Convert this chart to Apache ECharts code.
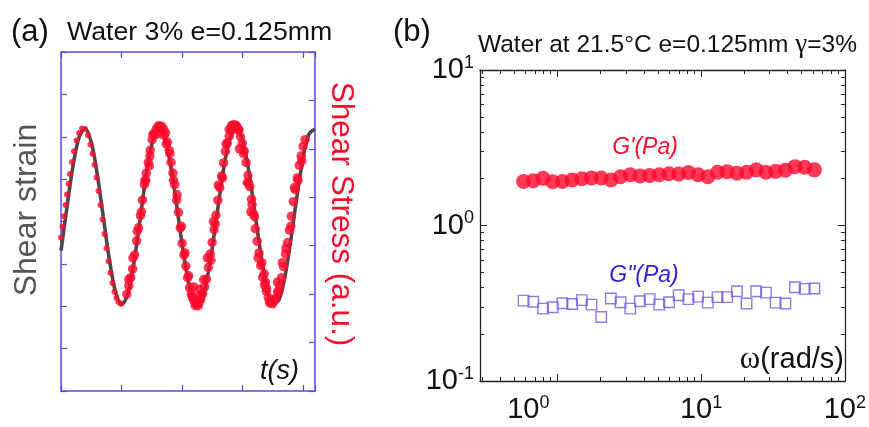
<!DOCTYPE html>
<html>
<head>
<meta charset="utf-8">
<script src="https://cdn.jsdelivr.net/npm/echarts@6/dist/echarts.min.js"></script>
<style>
  html, body { margin: 0; padding: 0; background: #fff; }
  #chart { width: 869px; height: 427px; }
</style>
</head>
<body>
<div id="chart"></div>
<script>
// ---------- (a) oscillation trace: time vs strain / stress ----------
const strainT = [0, 0.1, 0.2, 0.3, 0.4, 0.5, 0.6, 0.7, 0.8, 0.9, 1.0, 1.1, 1.2, 1.3, 1.4, 1.5, 1.6, 1.7, 1.8, 1.9, 2.0,
  2.1, 2.2, 2.3, 2.4, 2.5, 2.6, 2.7, 2.8, 2.9, 3.0, 3.1, 3.2, 3.3, 3.4, 3.5, 3.6, 3.7, 3.8, 3.9, 4.0, 4.1, 4.2];
const strainV = [3.31, 4.35, 5.32, 5.99, 6.19, 5.87, 5.11, 4.10, 3.10, 2.35, 2.04, 2.27, 2.97, 3.97, 5.01, 5.81, 6.19,
  6.04, 5.43, 4.51, 3.49, 2.63, 2.12, 2.09, 2.54, 3.37, 4.38, 5.33, 5.98, 6.20, 5.92, 5.23, 4.27, 3.28, 2.49, 2.08,
  2.14, 2.68, 3.56, 4.58, 5.48, 6.06, 6.18];

const stressT = [
  0, 0.025, 0.050, 0.074, 0.099, 0.124, 0.149, 0.182, 0.215, 0.256, 0.298, 0.347, 0.397, 0.446, 0.488, 0.521,
  0.554, 0.587, 0.620, 0.653, 0.686, 0.719, 0.752, 0.785, 0.818, 0.851, 0.884, 0.917, 0.950, 0.992,
  1.088, 1.121, 1.153, 1.185, 1.217, 1.250, 1.282, 1.314, 1.346, 1.379, 1.411, 1.443, 1.475, 1.507, 1.540, 1.572, 1.604,
  1.636, 1.667, 1.698, 1.728, 1.759, 1.789, 1.820, 1.851, 1.881, 1.912, 1.942, 1.973, 2.003, 2.034, 2.065, 2.095,
  2.126, 2.156, 2.187, 2.217,
  2.248, 2.279, 2.311, 2.342, 2.374, 2.405, 2.436, 2.468, 2.499, 2.531, 2.562, 2.593, 2.625, 2.656, 2.688, 2.719,
  2.750, 2.782, 2.813, 2.845,
  2.876, 2.907, 2.937, 2.968, 2.998, 3.029, 3.060, 3.090, 3.121, 3.151, 3.182, 3.212, 3.243, 3.274, 3.304, 3.335,
  3.365, 3.396, 3.426, 3.457,
  3.488, 3.520, 3.552, 3.584, 3.617, 3.649, 3.681, 3.713, 3.745, 3.778, 3.810, 3.842, 3.874, 3.907, 3.939, 3.971,
  4.003, 4.036,
  1.58, 1.70, 2.17, 2.22, 2.27, 2.31, 2.78, 2.82, 2.86, 2.90, 2.94, 3.40, 3.45, 3.50, 3.55, 3.58, 3.36,
  1.40, 1.47, 3.10, 3.16, 2.48, 2.55,
  1.12, 1.19, 1.26, 1.33, 1.39, 1.46, 1.52,
  1.74, 1.80, 1.86, 1.92, 1.99, 2.05, 2.11, 2.19,
  2.29, 2.36, 2.42, 2.52, 2.60, 2.67, 2.73,
  2.95, 3.02, 3.08, 3.14, 3.20, 3.26, 3.32, 3.38,
  3.60, 3.66, 3.72, 3.80, 3.86, 3.92, 3.98
];
const stressV = [
  3.17, 3.39, 3.61, 3.84, 4.06, 4.28, 4.48, 4.73, 4.95, 5.17, 5.33, 5.42, 5.41, 5.28, 5.09, 4.90,
  4.67, 4.41, 4.13, 3.84, 3.54, 3.24, 2.95, 2.68, 2.44, 2.23, 2.05, 1.92, 1.84, 1.80,
  2.00, 2.17, 2.34, 2.52, 2.81, 3.10, 3.37, 3.62, 3.94, 4.26, 4.50, 4.72, 4.97, 5.19, 5.31, 5.40, 5.47,
  5.47, 5.46, 5.40, 5.33, 5.14, 4.97, 4.72, 4.50, 4.26, 3.94, 3.69, 3.37, 3.05, 2.81, 2.58, 2.34,
  2.13, 2.00, 1.89, 1.82,
  1.80, 1.83, 1.89, 2.01, 2.15, 2.31, 2.55, 2.83, 3.07, 3.33, 3.63, 3.94, 4.20, 4.44, 4.71, 4.95,
  5.12, 5.26, 5.38, 5.44,
  5.46, 5.44, 5.38, 5.25, 5.12, 4.96, 4.72, 4.45, 4.22, 3.96, 3.66, 3.35, 3.09, 2.85, 2.59, 2.35,
  2.19, 2.06, 1.93, 1.86,
  1.84, 1.86, 1.92, 2.05, 2.18, 2.34, 2.57, 2.83, 3.06, 3.32, 3.61, 3.91, 4.16, 4.40, 4.66, 4.85,
  5.05, 5.19,
  5.30, 5.28, 1.95, 1.76, 1.76, 1.98, 5.40, 5.48, 5.50, 5.48, 5.40, 2.12, 1.82, 1.80, 1.90, 2.25, 2.42,
  4.35, 4.85, 4.30, 3.85, 2.70, 3.45,
  2.30, 2.75, 3.30, 3.70, 4.35, 4.65, 5.30,
  5.10, 4.90, 4.35, 4.05, 3.40, 2.85, 2.38, 2.15,
  2.10, 2.30, 2.75, 3.50, 4.25, 4.40, 5.10,
  5.00, 4.90, 4.30, 3.70, 3.60, 2.75, 2.65, 2.25,
  2.05, 2.65, 2.95, 3.40, 4.20, 4.35, 4.75
];

// ---------- (b) frequency sweep: moduli vs angular frequency ----------
const omega = [0.583, 0.681, 0.796, 0.929, 1.086, 1.268, 1.481, 1.729, 2.020, 2.359, 2.754, 3.217, 3.757, 4.387,
  5.124, 5.984, 6.988, 8.161, 9.533, 11.13, 13.00, 15.18, 17.74, 20.71, 24.19, 28.25, 33.00, 38.54, 45.01, 52.56, 61.38];
const gStorage = [1.92, 1.94, 2.01, 1.91, 1.92, 1.96, 2.00, 2.02, 2.02, 1.96, 2.06, 2.12, 2.08, 2.10, 2.12, 2.15,
  2.14, 2.19, 2.12, 2.06, 2.20, 2.22, 2.17, 2.20, 2.28, 2.20, 2.23, 2.27, 2.39, 2.37, 2.28];
const gLoss = [0.329, 0.323, 0.292, 0.298, 0.316, 0.313, 0.331, 0.310, 0.258, 0.339, 0.321, 0.292, 0.326, 0.336,
  0.310, 0.321, 0.356, 0.336, 0.349, 0.319, 0.346, 0.346, 0.378, 0.315, 0.378, 0.370, 0.319, 0.315, 0.401, 0.391, 0.393];

const xMajorB = [1, 10, 100];
const xMinorB = [0.3, 0.4, 0.5, 0.6, 0.7, 0.8, 0.9, 2, 3, 4, 5, 6, 7, 8, 9, 20, 30, 40, 50, 60, 70, 80, 90];
const yMajorB = [0.1, 1, 10];
const yMinorB = [0.2, 0.3, 0.4, 0.5, 0.6, 0.7, 0.8, 0.9, 2, 3, 4, 5, 6, 7, 8, 9];

// ---------- styling ----------
const SANS = "'Liberation Sans', Arial, sans-serif";
const SERIF = "'Liberation Serif', 'Times New Roman', serif";
const FRAME_A = '#5a48e6';
const FRAME_B = '#222222';
const RED = '#fe0a2c';
const STRAIN_GRAY = '#4a4a4a';
const LOSS_EDGE = '#6b5ce6';
const LOSS_TEXT = '#3320d8';

const zip = (a, b) => a.map((v, i) => [v, b[i]]);

// power-of-ten tick text; the 10^0 label on the frequency axis sits left of its tick
const powLabel = v => {
  const e = Math.round(Math.log10(v));
  return '{b|10}{s|' + e + '}';
};
const powLabelX = v => {
  const e = Math.round(Math.log10(v));
  return '{b|10}{s|' + e + '}' + (e === 0 ? '{g| }' : '');
};
const powRich = {
  b: { fontSize: 29, fontFamily: SANS, color: '#111', lineHeight: 32 },
  s: { fontSize: 18, fontFamily: SANS, color: '#111', verticalAlign: 'top', lineHeight: 10 },
  g: { width: 58, fontSize: 10 }
};

function frameAxisA(extra) {
  return Object.assign({
    gridIndex: 0, type: 'value',
    axisLine: { show: true, onZero: false, lineStyle: { color: FRAME_A, width: 1.5 } },
    axisTick: { show: true, inside: true, length: 6, lineStyle: { color: FRAME_A, width: 1.2 } },
    axisLabel: { show: false }, splitLine: { show: false }
  }, extra);
}
function logAxisB(extra, major, showLabel) {
  return Object.assign({
    gridIndex: 1, type: 'log', logBase: 10,
    axisLine: { show: major, onZero: false, lineStyle: { color: FRAME_B, width: 1.3 } },
    axisTick: { show: true, inside: true, length: major ? 7 : 4,
      customValues: null, lineStyle: { color: FRAME_B, width: 1 } },
    axisLabel: { show: showLabel, formatter: powLabel, rich: powRich },
    splitLine: { show: false }, minorTick: { show: false }
  }, extra);
}

function xB(position, major, showLabel) {
  const ax = logAxisB({ position: position, min: 0.29, max: 100 }, major, showLabel);
  ax.axisTick.customValues = major ? xMajorB : xMinorB;
  if (showLabel) { ax.axisLabel.customValues = xMajorB; ax.axisLabel.margin = 13; ax.axisLabel.formatter = powLabelX; }
  return ax;
}
function yB(position, major, showLabel) {
  const ax = logAxisB({ position: position, min: 0.1, max: 10 }, major, showLabel);
  ax.axisTick.customValues = major ? yMajorB : yMinorB;
  if (showLabel) { ax.axisLabel.customValues = yMajorB; ax.axisLabel.margin = 6; }
  return ax;
}

const option = {
  animation: false,
  backgroundColor: '#ffffff',
  grid: [
    { left: 61, top: 52, width: 254, height: 339 },
    { left: 480, top: 70, width: 368, height: 311 }
  ],
  xAxis: [
    frameAxisA({ position: 'bottom', min: 0, max: 4.2, interval: 1 }),
    frameAxisA({ position: 'top', min: 0, max: 4.2, interval: 1 }),
    xB('bottom', true, true),
    xB('bottom', false, false),
    xB('top', true, false),
    xB('top', false, false)
  ],
  yAxis: [
    frameAxisA({ position: 'left', min: 0, max: 8, interval: 1 }),
    frameAxisA({ position: 'right', min: 0, max: 7, interval: 1 }),
    yB('left', true, true),
    yB('left', false, false),
    yB('right', true, false),
    yB('right', false, false)
  ],
  series: [
    {
      name: 'Shear strain', type: 'line', xAxisIndex: 0, yAxisIndex: 0,
      data: zip(strainT, strainV), smooth: 0.35, symbol: 'none',
      lineStyle: { color: STRAIN_GRAY, width: 3.6 }, z: 2
    },
    {
      name: 'Shear Stress', type: 'scatter', xAxisIndex: 0, yAxisIndex: 1,
      data: zip(stressT, stressV),
      symbolSize: v => (v[0] < 1.0 ? 6 : 9.5),
      itemStyle: { color: RED }, z: 3
    },
    {
      name: "G'", type: 'scatter', xAxisIndex: 2, yAxisIndex: 2,
      data: zip(omega, gStorage), symbol: 'circle', symbolSize: 15,
      itemStyle: { color: RED }, z: 3
    },
    {
      name: 'G"', type: 'scatter', xAxisIndex: 2, yAxisIndex: 2,
      data: zip(omega, gLoss), symbol: 'rect', symbolSize: 10.5,
      itemStyle: { color: 'rgba(255,255,255,0)', borderColor: LOSS_EDGE, borderWidth: 1.4 }, z: 3
    }
  ],
  graphic: [
    { type: 'text', x: 11, y: 32, style: { text: '(a)', fontSize: 31, fontFamily: SANS, fill: '#111', align: 'left', verticalAlign: 'middle' } },
    { type: 'text', x: 67, y: 33, style: { text: 'Water 3% e=0.125mm', fontSize: 26.7, fontFamily: SANS, fill: '#111', align: 'left', verticalAlign: 'middle' } },
    { type: 'text', x: 27, y: 210, rotation: Math.PI / 2, style: { text: 'Shear strain', fontSize: 32, fontFamily: SANS, fill: '#555', align: 'center', verticalAlign: 'middle' } },
    { type: 'text', x: 341, y: 214, rotation: -Math.PI / 2, style: { text: 'Shear Stress (a.u.)', fontSize: 31.5, fontFamily: SANS, fill: RED, align: 'center', verticalAlign: 'middle' } },
    { type: 'text', x: 299, y: 371, style: { text: 't(s)', fontSize: 27, fontStyle: 'italic', fontFamily: SANS, fill: '#111', align: 'right', verticalAlign: 'middle' } },

    { type: 'text', x: 393, y: 32, style: { text: '(b)', fontSize: 31, fontFamily: SANS, fill: '#111', align: 'left', verticalAlign: 'middle' } },
    { type: 'text', x: 478, y: 45, style: { text: 'Water at 21.5°C e=0.125mm {g|γ}=3%', fontSize: 24.5, fontFamily: SANS, fill: '#111', align: 'left', verticalAlign: 'middle',
      rich: { g: { fontSize: 27, fontFamily: SERIF, fill: '#111' } } } },
    { type: 'text', x: 645, y: 148, style: { text: "G'(Pa)", fontSize: 23, fontStyle: 'italic', fontFamily: SANS, fill: RED, align: 'center', verticalAlign: 'middle' } },
    { type: 'text', x: 644, y: 276, style: { text: 'G"(Pa)', fontSize: 23, fontStyle: 'italic', fontFamily: SANS, fill: LOSS_TEXT, align: 'center', verticalAlign: 'middle' } },
    { type: 'text', x: 844, y: 360, style: { text: '{w|ω}(rad/s)', fontSize: 29, fontFamily: SANS, fill: '#111', align: 'right', verticalAlign: 'middle',
      rich: { w: { fontSize: 31, fontFamily: SERIF, fill: '#111' } } } }
  ]
};

const chart = echarts.init(document.getElementById('chart'), null, { renderer: 'canvas' });
chart.setOption(option);
</script>
</body>
</html>
